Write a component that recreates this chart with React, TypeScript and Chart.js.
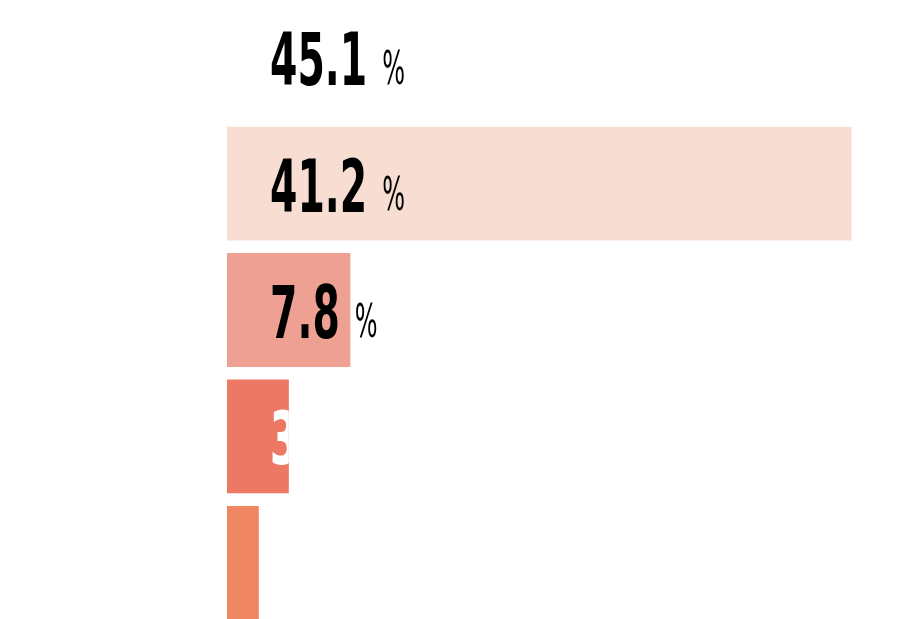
import { useEffect, useRef } from "react";
import { Chart, ChartOptions, Plugin, registerables } from "chart.js";

Chart.register(...registerables);

// Shares by answer, top to bottom
const categories = ["Answer 1", "Answer 2", "Answer 3", "Answer 4", "Answer 5"];
const shares = [45.1, 41.2, 7.8, 3.7, 1.7];
const barColors = ["#ffffff", "#f8ddd2", "#eea193", "#ed7864", "#ee8762"];
const labelColors = ["#000000", "#000000", "#000000", "#ffffff", "#ffffff"];

const AXIS_MIN = -0.42;

const valueLabels: Plugin<"bar"> = {
  id: "valueLabels",
  afterDatasetsDraw(chart) {
    const { ctx } = chart;
    const meta = chart.getDatasetMeta(0);
    meta.data.forEach((el: any, i) => {
      const color = labelColors[i];
      const clipToBar = color === "#ffffff";
      const x = el.base + 43;
      const y = el.y + 28;
      ctx.save();
      if (clipToBar) {
        ctx.beginPath();
        ctx.rect(el.base, el.y - el.height / 2, el.x - el.base, el.height);
        ctx.clip();
      }
      ctx.fillStyle = color;
      ctx.textBaseline = "alphabetic";
      ctx.textAlign = "left";

      // number: bold, strongly condensed
      const numText = shares[i].toFixed(1);
      ctx.font = "bold 73px 'DejaVu Sans Condensed', 'DejaVu Sans', sans-serif";
      const numScale = 0.6;
      const numWidth = ctx.measureText(numText).width * numScale;
      ctx.save();
      ctx.translate(x, y);
      ctx.scale(numScale, 1);
      ctx.fillText(numText, 0, 0);
      ctx.restore();

      // percent sign: light, condensed
      ctx.font = "46px 'DejaVu Sans Condensed', 'DejaVu Sans', sans-serif";
      ctx.save();
      ctx.translate(x + numWidth + 15, y - 1.5);
      ctx.scale(0.58, 1);
      ctx.fillText("%", 0, 0);
      ctx.restore();

      ctx.restore();
    });
  },
};

export default function App() {
  const chartRef = useRef<HTMLCanvasElement>(null);
  const chartInstance = useRef<Chart | null>(null);

  useEffect(() => {
    if (!chartRef.current) return;
    if (chartInstance.current) {
      chartInstance.current.destroy();
    }
    const ctx = chartRef.current.getContext("2d");
    if (!ctx) return;

    const options: ChartOptions<"bar"> = {
      indexAxis: "y",
      responsive: true,
      maintainAspectRatio: false,
      animation: false,
      layout: {
        padding: { left: 227, right: 0, top: 0, bottom: 0 },
      },
      plugins: {
        legend: { display: false },
        tooltip: { enabled: false },
      },
      scales: {
        x: {
          display: false,
          min: AXIS_MIN,
          max: 45.1,
        },
        y: {
          display: false,
          grid: { display: false },
        },
      },
    };

    chartInstance.current = new Chart(ctx, {
      type: "bar",
      data: {
        labels: categories,
        datasets: [
          {
            data: shares,
            base: AXIS_MIN,
            backgroundColor: barColors,
            borderWidth: 0,
            categoryPercentage: 0.9,
            barPercentage: 1,
          },
        ],
      },
      options,
      plugins: [valueLabels],
    });

    return () => {
      if (chartInstance.current) {
        chartInstance.current.destroy();
        chartInstance.current = null;
      }
    };
  }, []);

  return (
    <div
      style={{
        position: "fixed",
        left: 0,
        top: 0,
        width: 910,
        height: 619,
        overflow: "hidden",
        background: "#ffffff",
      }}
    >
      <div style={{ position: "absolute", left: 0, top: -6, width: 910, height: 632 }}>
        <canvas ref={chartRef}></canvas>
      </div>
    </div>
  );
}
